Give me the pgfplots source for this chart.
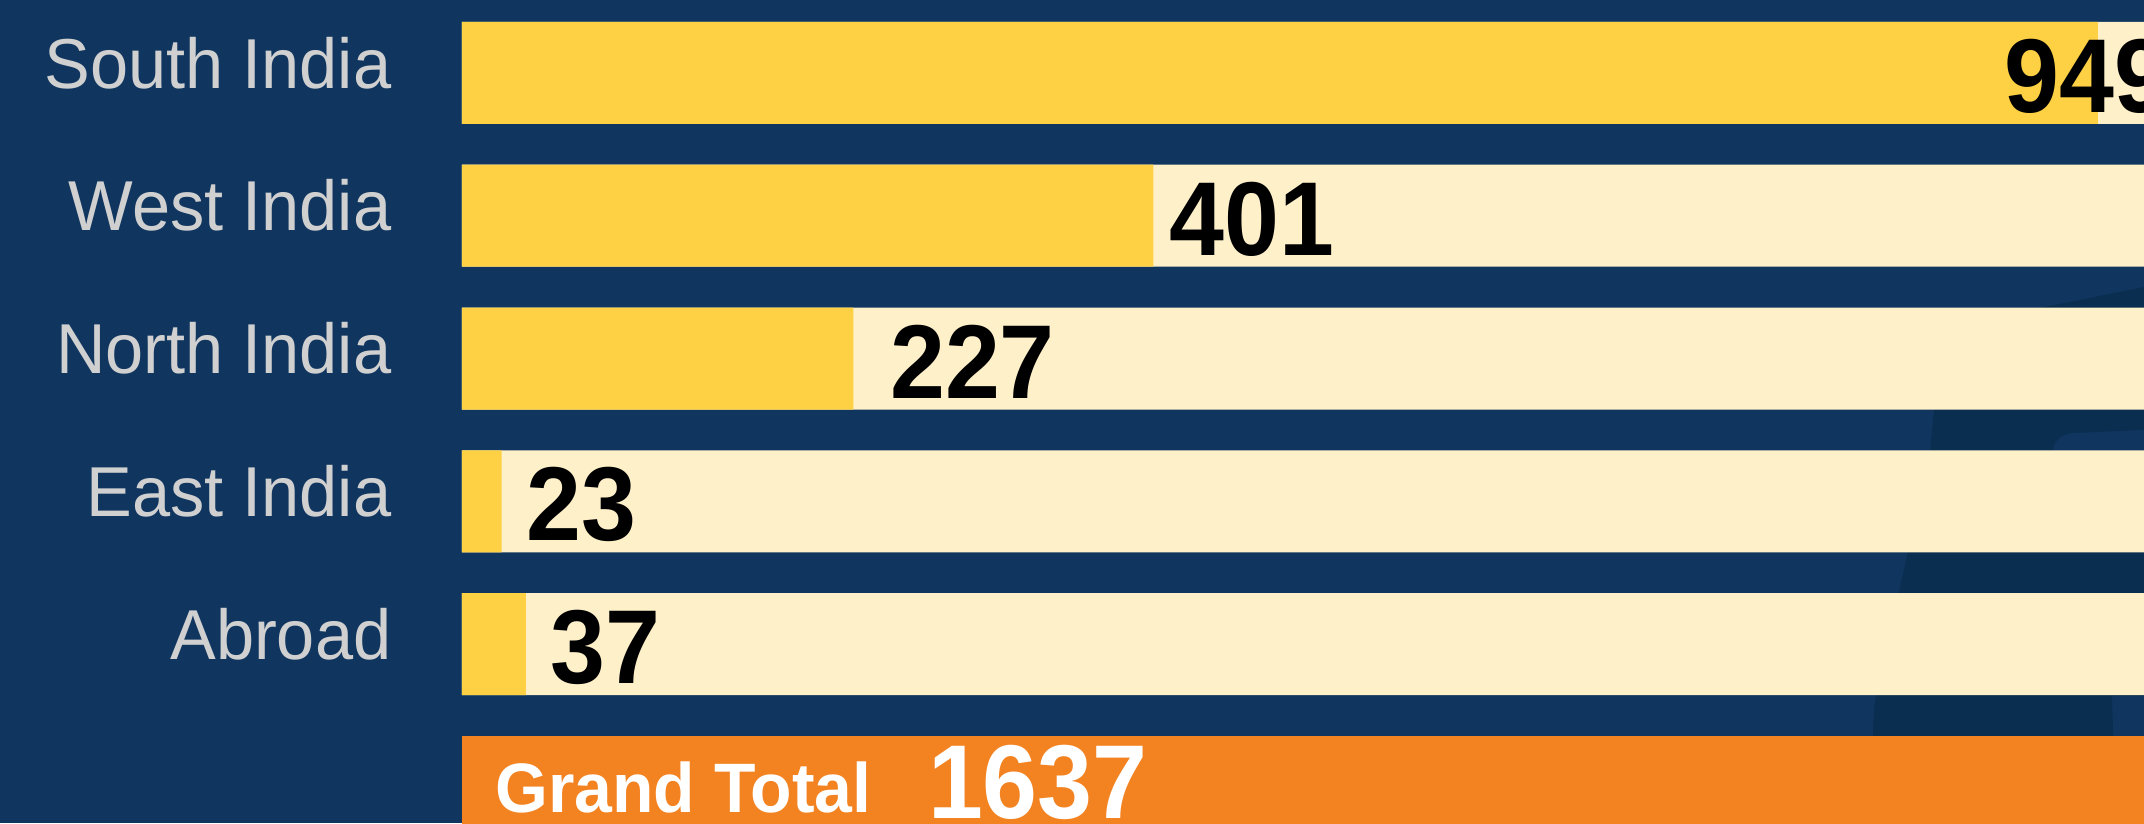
\documentclass[border=0pt]{standalone}
\usepackage{fontspec}
\setmainfont{Liberation Sans}[FakeStretch=0.97]
\newfontfamily\numfont{Liberation Sans}[FakeStretch=0.94]
\usepackage{pgfplots}
\pgfplotsset{compat=1.18}
\definecolor{bgblue}{RGB}{16,54,96}
\definecolor{darkshape}{RGB}{10,46,80}
\definecolor{cream}{RGB}{254,240,201}
\definecolor{ybar}{RGB}{254,209,69}
\definecolor{obar}{RGB}{243,130,33}
\definecolor{lblgray}{RGB}{208,208,208}
\begin{document}
\begin{tikzpicture}
\begin{scope}[x=0.3pt,y=-0.3pt]
\fill[bgblue] (0,0) rectangle (2144,823);
\fill[darkshape] (2040,308) -- (2144,287) -- (2144,696) -- (2112,696) .. controls (2112,705) and (2113,720) .. (2113,740) -- (1873,740) .. controls (1873,720) and (1874,705) .. (1876,696) -- (1930,451) -- (1934,410) -- cycle;
\fill[bgblue] (2053,460) -- (2053,452) .. controls (2053,441) and (2062,433) .. (2075,433) -- (2144,430) -- (2144,460) -- cycle;
\end{scope}
\begin{axis}[
  at={(138.6pt,-246.9pt)}, anchor=south west,
  scale only axis, width=504.6pt, height=246.9pt,
  xmin=0, xmax=975.7, ymin=-0.252, ymax=5.51,
  axis x line=none,
  axis y line*=left,
  y axis line style={draw=none},
  ytick style={draw=none},
  major tick length=0pt,
  ytick={1,2,3,4,5},
  yticklabels={Abroad,East India,North India,West India,South India},
  yticklabel style={font=\fontsize{21.2}{25}\selectfont, text=lblgray, anchor=east, inner sep=0pt, xshift=-21pt, yshift=3pt},
  clip=true,
]
\addplot[xbar, bar width=30.6pt, bar shift=0pt, fill=cream, draw=none] coordinates {(1000,1) (1000,2) (1000,3) (1000,4) (1000,5)};
\addplot[xbar, bar width=30.6pt, bar shift=0pt, fill=ybar, draw=none] coordinates {(949,5) (401,4) (227,3) (23,2) (37,1)};
\addplot[xbar, bar width=30.6pt, bar shift=0pt, fill=obar, draw=none] coordinates {(1637,0)};
\addplot[xbar, bar width=30.6pt, bar shift=0pt, draw=none, fill=none, nodes near coords, point meta=explicit symbolic,
  every node near coord/.append style={font=\numfont\bfseries\fontsize{31.5}{36}\selectfont, text=black, inner sep=0pt, anchor=west, yshift=-1pt}]
  coordinates {(894.5,5)[949] (410,4)[401] (248,3)[227] (37,2)[23] (51,1)[37]};
\addplot[xbar, bar width=30.6pt, bar shift=0pt, draw=none, fill=none, nodes near coords, point meta=explicit symbolic,
  every node near coord/.append style={font=\numfont\bfseries\fontsize{31.5}{36}\selectfont, text=white, inner sep=0pt, anchor=west, yshift=1.5pt}]
  coordinates {(270,0)[1637]};
\node[anchor=west, inner sep=0pt, text=white, font=\bfseries\fontsize{21}{25}\selectfont] at (axis cs:19,0) {Grand Total};
\end{axis}
\pgfresetboundingbox
\path[use as bounding box] (0pt,0pt) rectangle (643.2pt,-246.9pt);
\end{tikzpicture}
\end{document}
